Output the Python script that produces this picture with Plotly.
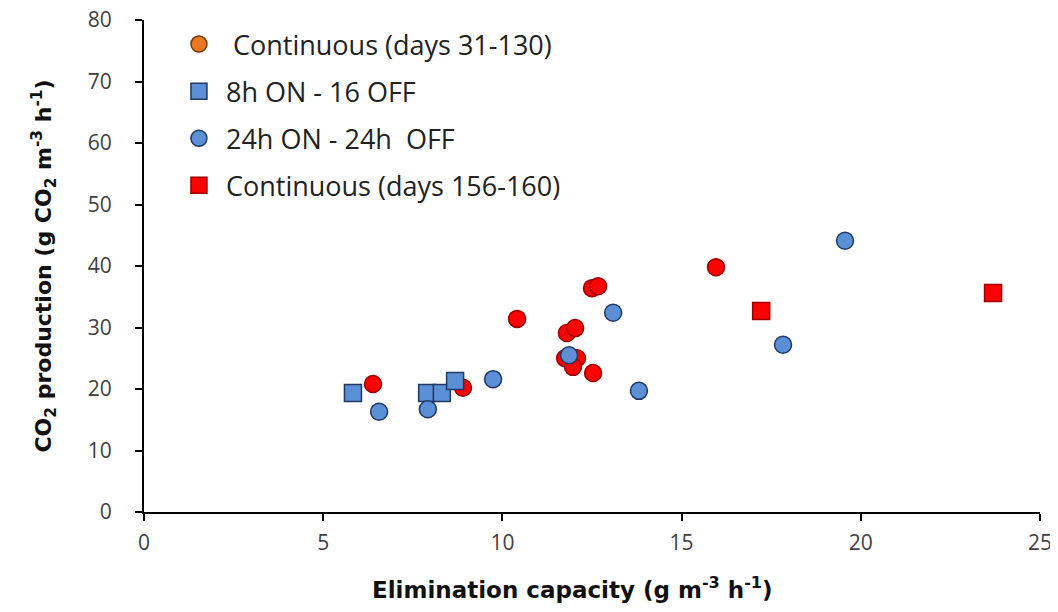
import plotly.graph_objects as go

# Continuous (days 31-130)
cont1_x = [6.39, 8.90, 10.41, 12.50, 12.67, 11.80, 12.03, 11.75, 12.08, 11.97, 12.53, 15.96]
cont1_y = [20.8, 20.2, 31.4, 36.4, 36.7, 29.1, 29.9, 25.0, 25.0, 23.6, 22.6, 39.8]

# 8h ON - 16 OFF
on8_x = [5.83, 7.90, 8.31, 8.68]
on8_y = [19.35, 19.35, 19.35, 21.3]

# 24h ON - 24h OFF
on24_x = [6.56, 7.92, 9.74, 11.86, 13.09, 13.81, 17.83, 19.56]
on24_y = [16.3, 16.7, 21.6, 25.5, 32.4, 19.7, 27.2, 44.1]

# Continuous (days 156-160)
cont2_x = [17.22, 23.69]
cont2_y = [32.7, 35.6]

red_line = dict(color="#9a0000", width=1.5)
blue_line = dict(color="#1f3864", width=1.5)

fig = go.Figure()

# red data points (legend shows an orange marker in the original)
fig.add_trace(go.Scatter(x=cont1_x, y=cont1_y, mode="markers", showlegend=False,
                         marker=dict(symbol="circle", size=17, color="#ff0000", line=red_line)))
fig.add_trace(go.Scatter(x=[None], y=[None], mode="markers", name="  Continuous (days 31-130)",
                         legendgroup="a",
                         marker=dict(symbol="circle", size=17, color="#e87722",
                                     line=dict(color="#7a3a00", width=1.5))))
fig.add_trace(go.Scatter(x=on8_x, y=on8_y, mode="markers", name=" 8h ON - 16 OFF", legendgroup="b",
                         marker=dict(symbol="square", size=17, color="#5b8fd6", line=blue_line)))
fig.add_trace(go.Scatter(x=on24_x, y=on24_y, mode="markers", name=" 24h ON - 24h  OFF", legendgroup="c",
                         marker=dict(symbol="circle", size=17, color="#5b8fd6", line=blue_line)))
fig.add_trace(go.Scatter(x=cont2_x, y=cont2_y, mode="markers", name=" Continuous (days 156-160)",
                         legendgroup="d",
                         marker=dict(symbol="square", size=17, color="#ff0000", line=red_line)))

fam = "Open Sans, Liberation Sans, sans-serif"
axis_font = dict(family=fam, size=21, color="#404040")
title_font = dict(family="DejaVu Sans, sans-serif", size=23, color="#111111")

# the page body adds an 8px margin, so the figure is sized 8px smaller
fig.update_layout(
    width=1050, height=604,
    margin=dict(l=136, r=18, t=12, b=100, autoexpand=False),
    plot_bgcolor="white", paper_bgcolor="white",
    legend=dict(x=0.039, y=1.0, xanchor="left", yanchor="top", tracegroupgap=9,
                font=dict(family=fam, size=27, color="#222222"),
                bgcolor="rgba(0,0,0,0)", itemsizing="trace"),
    xaxis=dict(range=[0, 25], dtick=5, showline=True, linecolor="black", linewidth=2,
               ticks="outside", ticklen=7, tickwidth=2, tickcolor="black", automargin=False,
               showgrid=False, zeroline=False, tickfont=axis_font, ticklabelstandoff=4,
               ticklabeloverflow="allow"),
    yaxis=dict(range=[0, 80], dtick=10, showline=True, linecolor="black", linewidth=2,
               ticks="outside", ticklen=7, tickwidth=2, tickcolor="black", automargin=False,
               showgrid=False, zeroline=False, tickfont=axis_font, ticklabelstandoff=19,
               ticklabeloverflow="allow",
               title=dict(text="<b>CO<sub>2</sub> production (g CO<sub>2</sub> m<sup>-3</sup> h<sup>-1</sup>)</b>",
                          font=dict(family="DejaVu Sans, sans-serif", size=22, color="#111111"),
                          standoff=30)),
    annotations=[dict(text="<b>Elimination capacity (g m<sup>-3</sup> h<sup>-1</sup>)</b>",
                      xref="paper", yref="paper", x=0.478, y=-0.155, xanchor="center",
                      yanchor="middle", showarrow=False, font=title_font)],
)

fig.write_html("out.html")
